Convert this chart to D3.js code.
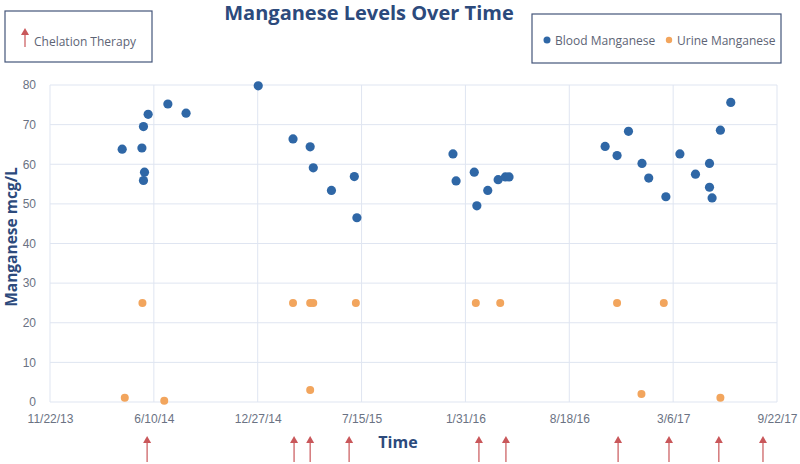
<!DOCTYPE html>
<html>
<head>
<meta charset="utf-8">
<script src="https://cdn.jsdelivr.net/npm/d3@7/dist/d3.min.js"></script>
<style>
  body { margin: 0; background: #fff; }
  svg { font-family: "Open Sans", sans-serif; }
</style>
</head>
<body>
<div id="chart"></div>
<script>
// blood manganese samples
var bloodDates = ["2014-04-10","2014-05-18","2014-05-21","2014-05-30","2014-05-23","2014-05-21","2014-07-07","2014-08-11","2014-12-28",
  "2015-03-05","2015-04-07","2015-04-13","2015-05-18","2015-07-01","2015-07-06",
  "2016-01-07","2016-01-13","2016-02-17","2016-02-22","2016-03-14","2016-04-03","2016-04-17","2016-04-24",
  "2016-10-26","2016-11-18","2016-12-10","2017-01-05","2017-01-18","2017-02-20","2017-03-19","2017-04-18","2017-05-15","2017-05-15","2017-05-20","2017-06-05","2017-06-25"];
var bloodValues = [63.8,64.1,69.5,72.6,58.0,55.9,75.2,72.9,79.8,
  66.4,64.4,59.1,53.4,56.9,46.5,
  62.6,55.8,58.0,49.5,53.4,56.1,56.8,56.8,
  64.5,62.2,68.3,60.2,56.5,51.8,62.6,57.5,60.2,54.2,51.5,68.6,75.6];

// urine manganese samples
var urineDates = ["2014-05-19","2014-04-15","2014-06-30","2015-03-05","2015-04-07","2015-04-13","2015-07-04","2015-04-07",
  "2016-02-20","2016-04-07","2016-11-18","2017-02-16","2017-01-04","2017-06-05"];
var urineValues = [25,1.1,0.3,25,25,25,25,3.0,25,25,25,25,2.0,1.1];

// chelation therapy dates
var chelationDates = ["2014-05-28","2015-03-07","2015-04-07","2015-06-21","2016-02-26","2016-04-18","2016-11-20","2017-02-26","2017-06-02","2017-08-26"];

var xTickDates = ["2013-11-22","2014-06-10","2014-12-27","2015-07-15","2016-01-31","2016-08-18","2017-03-06","2017-09-22"];
var yTicks = [0,10,20,30,40,50,60,70,80];

var parse = d3.timeParse("%Y-%m-%d");
var fmt = function (d) { return (d.getMonth() + 1) + "/" + d.getDate() + "/" + String(d.getFullYear()).slice(2); };

var width = 800, height = 464;
var svg = d3.select("#chart").append("svg").attr("width", width).attr("height", height);

var x = d3.scaleTime().domain([parse(xTickDates[0]), parse(xTickDates[xTickDates.length - 1])]).range([50, 777]);
var y = d3.scaleLinear().domain([0, 80]).range([402, 85]);

var gridColor = "#dfe5f1";
var labelColor = "#6a7283";
var titleColor = "#2c4a7c";

// grid
svg.append("g").selectAll("line").data(yTicks).enter().append("line")
  .attr("x1", 50).attr("x2", 777)
  .attr("y1", function (d) { return y(d); }).attr("y2", function (d) { return y(d); })
  .attr("stroke", gridColor).attr("stroke-width", 1);
svg.append("g").selectAll("line").data(xTickDates).enter().append("line")
  .attr("x1", function (d) { return x(parse(d)); }).attr("x2", function (d) { return x(parse(d)); })
  .attr("y1", 85).attr("y2", 402)
  .attr("stroke", gridColor).attr("stroke-width", 1);

// axes
var xAxis = d3.axisBottom(x).tickValues(xTickDates.map(parse)).tickFormat(fmt).tickSize(0).tickPadding(12);
var gx = svg.append("g").attr("transform", "translate(0,402)").call(xAxis);
gx.select(".domain").remove();
gx.selectAll("text").attr("fill", labelColor).style("font-size", "12px");

var yAxis = d3.axisLeft(y).tickValues(yTicks).tickSize(0).tickPadding(14);
var gy = svg.append("g").attr("transform", "translate(50,0)").call(yAxis);
gy.select(".domain").remove();
gy.selectAll("text").attr("fill", labelColor).style("font-size", "12px");

// points
svg.append("g").selectAll("circle").data(urineDates).enter().append("circle")
  .attr("cx", function (d) { return x(parse(d)); })
  .attr("cy", function (d, i) { return y(urineValues[i]); })
  .attr("r", 4).attr("fill", "#f2a55d");

svg.append("g").selectAll("circle").data(bloodDates).enter().append("circle")
  .attr("cx", function (d) { return x(parse(d)); })
  .attr("cy", function (d, i) { return y(bloodValues[i]); })
  .attr("r", 4.6).attr("fill", "#2f67a6");

// chelation arrows
var arrowColor = "#c9575a";
function arrow(g, cx, top, bottom) {
  g.append("line").attr("x1", cx).attr("x2", cx).attr("y1", top + 5).attr("y2", bottom)
    .attr("stroke", arrowColor).attr("stroke-width", 1.2);
  g.append("path").attr("d", "M" + (cx - 4) + "," + (top + 7) + "L" + cx + "," + top + "L" + (cx + 4) + "," + (top + 7) + "Z")
    .attr("fill", arrowColor);
}
var ga = svg.append("g");
chelationDates.forEach(function (d) { arrow(ga, x(parse(d)), 436, 462); });

// titles
svg.append("text").attr("x", 369).attr("y", 20).attr("text-anchor", "middle")
  .attr("fill", titleColor).style("font-size", "20px").style("font-weight", "bold")
  .text("Manganese Levels Over Time");
svg.append("text").attr("x", 398).attr("y", 448).attr("text-anchor", "middle")
  .attr("fill", titleColor).style("font-size", "16px").style("font-weight", "bold")
  .text("Time");
svg.append("text").attr("transform", "translate(17,237) rotate(-90)").attr("text-anchor", "middle")
  .attr("fill", titleColor).style("font-size", "15.5px").style("font-weight", "bold")
  .text("Manganese mcg/L");

// legend boxes
svg.append("rect").attr("x", 5).attr("y", 11).attr("width", 147).attr("height", 51)
  .attr("fill", "none").attr("stroke", "#44557a").attr("stroke-width", 1.2);
arrow(svg, 25, 28, 47);
svg.append("text").attr("x", 34).attr("y", 46).attr("fill", "#5d6475").style("font-size", "12px")
  .text("Chelation Therapy");

svg.append("rect").attr("x", 532).attr("y", 14).attr("width", 249).attr("height", 49)
  .attr("fill", "none").attr("stroke", "#44557a").attr("stroke-width", 1.2);
svg.append("circle").attr("cx", 547).attr("cy", 40).attr("r", 3.5).attr("fill", "#2f67a6");
svg.append("text").attr("x", 555).attr("y", 45).attr("fill", "#5d6475").style("font-size", "12px")
  .text("Blood Manganese");
svg.append("circle").attr("cx", 669).attr("cy", 40).attr("r", 3.2).attr("fill", "#f2a55d");
svg.append("text").attr("x", 677).attr("y", 45).attr("fill", "#5d6475").style("font-size", "12px")
  .text("Urine Manganese");
</script>
</body>
</html>
